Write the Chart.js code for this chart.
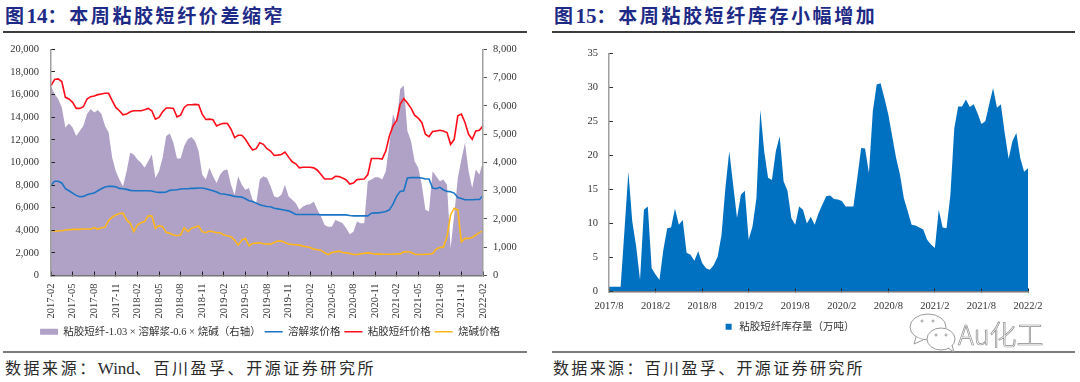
<!DOCTYPE html>
<html>
<head>
<meta charset="utf-8">
<script src="https://cdn.jsdelivr.net/npm/chart.js@4"></script>
<style>
  html, body { margin: 0; padding: 0; background: #fff; }
  body { position: relative; width: 1080px; height: 382px; overflow: hidden; }
  .title { position: absolute; top: 1px; font: bold 19px "Noto Sans CJK SC"; letter-spacing: 2.6px; color: #1d2a86; white-space: pre; }
  .title b { font-family: "Liberation Serif"; font-size: 21px; letter-spacing: 0; }
  .source { position: absolute; top: 355px; font: 16px "Noto Sans CJK SC", sans-serif; color: #2a2a2a; white-space: pre; line-height: 24px; }
  .source i { font: 17px "Liberation Serif"; letter-spacing: 0; }
  .rule { position: absolute; height: 2px; background: #3c3c3c; }
  .rule.low { background: #7c7c7c; }
  .chart { position: absolute; }
  .mark { position: absolute; left: 958px; top: 314px; font: 300 27px "Noto Sans CJK SC"; color: #fff; -webkit-text-stroke: 0.7px #8a8a8a; }
</style>
</head>
<body>
<div class="title" style="left:5px">图<b>14</b>：本周粘胶短纤价差缩窄</div>
<div class="title" style="left:554px">图<b>15</b>：本周粘胶短纤库存小幅增加</div>
<div class="rule" style="left:3px;width:524px;top:31px"></div>
<div class="rule" style="left:552px;width:523px;top:31px"></div>
<div class="chart" style="left:0;top:27px;width:540px;height:322px"><canvas id="spreadChart"></canvas></div>
<div class="chart" style="left:550px;top:31.5px;width:530px;height:312px"><canvas id="stockChart"></canvas></div>
<div class="rule low" style="left:3px;width:524px;top:351px"></div>
<div class="rule low" style="left:552px;width:523px;top:351px"></div>
<div class="source" style="left:5px;letter-spacing:2.55px">数据来源：<i>Wind</i>、百川盈孚、开源证券研究所</div>
<div class="source" style="left:553px;letter-spacing:2.35px">数据来源：百川盈孚、开源证券研究所</div>
<svg style="position:absolute;left:908px;top:312px" width="50" height="42" fill="#fff" stroke="#9a9a9a" stroke-width="1">
  <ellipse cx="20" cy="15" rx="18" ry="13"/>
  <path d="M8 25 L6 32 L15 28"/>
  <circle cx="14" cy="9" r="1"/><circle cx="25" cy="9" r="1"/>
  <ellipse cx="33" cy="27" rx="14" ry="11"/>
  <path d="M40 36 L46 40 L44 33"/>
  <circle cx="28" cy="23" r="1"/><circle cx="38" cy="23" r="1"/>
</svg>
<div class="mark">Au化工</div>

<script>
// half-month steps, 2017-02 to 2022-02
const spreadTicks = ["2017-02","2017-05","2017-08","2017-11","2018-02","2018-05","2018-08","2018-11","2019-02","2019-05","2019-08","2019-11","2020-02","2020-05","2020-08","2020-11","2021-02","2021-05","2021-08","2021-11","2022-02"];

// right axis
const spreadValues = [
  6682,6420,6242,5945,5232,5375,5232,4935,5114,5292,
  5708,5886,5767,5850,5708,5292,5054,4163,3688,3391,
  3153,3688,4341,4282,4104,3985,3807,4044,4282,3450,
  3688,4163,4935,5018,4698,4139,4139,4579,4817,4900,
  4757,4401,3569,3391,3807,3510,3272,3569,3724,3747,
  3213,2856,3510,3213,3035,3094,2678,2559,3391,3510,
  3450,3153,2797,2761,2856,3213,2797,2678,2559,2322,
  2441,2500,2524,2619,2322,2084,1787,1728,1728,1965,
  1906,1847,1668,1455,1550,1906,1847,1847,3332,3391,
  3474,3474,3391,3688,4638,5708,5351,6599,6717,5114,
  4757,4044,3807,3213,2322,2262,3688,3510,3332,3391,
  3213,956,2144,3450,4104,4698,3688,3094,3747,3569,
  4044
];
const pulpPrice = [
  7973,8329,8329,8181,7676,7497,7290,7082,6963,6993,
  7141,7230,7290,7497,7676,7824,7884,7884,7854,7705,
  7676,7616,7527,7497,7497,7497,7497,7497,7468,7379,
  7349,7349,7379,7527,7557,7586,7646,7676,7676,7705,
  7705,7735,7735,7676,7586,7497,7379,7230,7200,7141,
  7082,6993,6963,6933,6785,6606,6547,6399,6250,6161,
  6102,6072,5953,5894,5834,5775,5715,5567,5389,5389,
  5389,5389,5389,5389,5389,5359,5359,5359,5359,5359,
  5359,5359,5359,5300,5270,5270,5270,5270,5270,5508,
  5537,5537,5597,5656,5805,6309,6993,7438,7497,8626,
  8656,8656,8656,8626,8537,8537,7735,7676,7794,7586,
  7438,7408,7290,6903,6814,6696,6696,6696,6725,6725,
  7052
];
const fiberPrice = [
  16794,17328,17388,17150,15754,15606,15309,14774,14774,14922,
  15606,15813,15873,15992,16051,16110,16110,15457,14863,14566,
  14210,14269,14477,14566,14566,14566,14655,14774,14566,13823,
  13972,14477,14804,14804,14774,14031,14180,14863,15101,15101,
  15130,15101,14269,13794,13823,13764,13230,13378,13467,13437,
  12933,12190,12398,12398,12041,11537,11091,11210,11744,11596,
  11210,11002,10616,10646,10705,10913,10467,10052,9873,9517,
  9576,9576,9576,9517,9309,8923,8537,8537,8537,8774,
  8745,8626,8448,8091,8181,8478,8507,8537,8923,10349,
  10349,10349,10289,11002,12339,13230,13675,15160,15635,15249,
  14804,14180,13913,13527,12487,12279,12725,12784,12843,12784,
  12636,11596,12041,14120,14269,13527,12487,12041,12784,12843,
  13230
];
const causticPrice = [
  3963,3933,3933,3963,4022,4052,4082,4082,4082,4112,
  4112,4112,4230,4082,4230,4260,4854,5151,5359,5478,
  5508,4913,4616,3874,4468,4676,4765,5270,5270,4171,
  4409,4320,3815,3726,3577,3518,3577,4230,3874,4171,
  4290,4379,3874,3785,3933,3874,3785,3785,3577,3518,
  3429,3131,2686,3131,3280,2627,2834,2864,2894,2805,
  2775,2775,2924,3042,3042,2924,2775,2745,2716,2686,
  2597,2538,2478,2330,2270,2241,2003,1854,2033,2092,
  2151,2033,2003,1944,1854,1854,1914,1973,2003,1973,
  1884,1914,1884,1884,1884,1884,1914,1914,2092,2092,
  2062,1884,1854,1854,1884,1884,1944,2330,2478,2508,
  3429,5359,5953,5805,2983,3280,3280,3369,3577,3815,
  3933
];

// half-month steps, 2017/8 to 2022/2
const stockTicks = ["2017/8","2018/2","2018/8","2019/2","2019/8","2020/2","2020/8","2021/2","2021/8","2022/2"];
const stockValues = [
  0.7,0.7,0.7,0.7,9.1,17.6,10.3,6.6,1.7,12.0,
  12.5,3.4,2.5,1.7,6.1,9.3,9.4,12.2,9.8,10.5,
  5.7,5.4,4.5,5.9,4.2,3.4,3.2,3.9,5.1,8.3,
  15.2,20.6,15.7,10.8,14.2,14.8,7.6,9.6,13.7,26.7,
  20.6,16.7,16.4,20.6,22.8,16.2,14.8,10.8,9.8,12.5,
  12.0,10.0,11.0,9.8,11.5,12.8,14.0,14.1,13.6,13.5,
  13.3,12.5,12.5,12.5,16.7,21.1,21.0,17.4,26.5,30.4,
  30.6,28.4,26.0,22.8,19.6,17.2,13.7,11.8,9.8,9.7,
  9.4,9.1,7.6,6.9,6.4,12.0,9.4,9.3,14.2,24.0,
  27.2,27.2,28.2,27.1,27.5,26.2,24.6,25.0,27.5,29.9,
  27.0,27.5,23.3,19.5,22.1,23.3,19.6,17.6,18.1
];

const serif = '"Liberation Serif", "Noto Sans CJK SC"';
const textColor = "#333";
const axisGrey = "#a0a0a0";

// only the labelled categories get a tick, the rest stay blank
function expandTicks(ticks, gap) {
  const out = [];
  ticks.forEach((t, i) => {
    out.push(t);
    if (i < ticks.length - 1) { for (let k = 0; k < gap; k++) out.push(""); }
  });
  return out;
}

function keepLabelled(axis) {
  axis.ticks = axis.ticks.filter(t => axis.getLabelForValue(t.value) !== "");
}

function lineSet(label, data, color) {
  return { label: label, data: data, borderColor: color, backgroundColor: color, borderWidth: 1.6,
           pointRadius: 0, pointStyle: "line", tension: 0, order: 1, yAxisID: "y" };
}

new Chart(document.getElementById("spreadChart"), {
  type: "line",
  data: {
    labels: expandTicks(spreadTicks, 5),
    datasets: [
      { label: "粘胶短纤-1.03 × 溶解浆-0.6 × 烧碱（右轴）", data: spreadValues, backgroundColor: "#b0a1c6", borderColor: "#b0a1c6",
        borderWidth: 0, fill: "origin", pointRadius: 0, pointStyle: "rect", tension: 0, order: 2, yAxisID: "y1" },
      lineSet("溶解浆价格", pulpPrice, "#1a75c6"),
      lineSet("粘胶短纤价格", fiberPrice, "#ff0d1a"),
      lineSet("烧碱价格", causticPrice, "#fdb71c")
    ]
  },
  options: {
    responsive: true,
    maintainAspectRatio: false,
    animation: false,
    layout: { padding: { top: 9, bottom: 2 } },
    plugins: {
      tooltip: { enabled: false },
      legend: {
        position: "bottom",
        labels: {
          usePointStyle: true, pointStyleWidth: 18, boxHeight: 6, padding: 4,
          color: textColor, font: { family: serif, size: 10.5 },
          sort: (a, b) => a.datasetIndex - b.datasetIndex
        }
      }
    },
    scales: {
      x: {
        offset: false,
        grid: { drawOnChartArea: false, tickLength: -4, tickColor: "#222", z: 1, offset: false },
        border: { color: "#777", width: 1.5, z: 1 },
        ticks: { autoSkip: false, minRotation: 90, maxRotation: 90, padding: 12, color: textColor, font: { family: serif, size: 10.5 } },
        afterBuildTicks: keepLabelled,
        afterFit: s => { s.height = 47; }
      },
      y: {
        position: "left", min: 0, max: 20000,
        grid: { drawOnChartArea: false, tickLength: -4, tickColor: "#222", z: 1 },
        border: { color: axisGrey, width: 1.5, z: 1 },
        ticks: { stepSize: 2000, padding: 16, color: textColor, font: { family: serif, size: 10.5 }, callback: v => v.toLocaleString("en-US") },
        afterFit: s => { s.width = 51; }
      },
      y1: {
        position: "right", min: 0, max: 8000,
        grid: { drawOnChartArea: false, tickLength: 4, tickColor: "#555", z: 1 },
        border: { color: axisGrey, width: 1.5, z: 1 },
        ticks: { stepSize: 1000, padding: 6, color: textColor, font: { family: serif, size: 10.5 }, callback: v => v.toLocaleString("en-US") },
        afterFit: s => { s.width = 57; }
      }
    }
  }
});

new Chart(document.getElementById("stockChart"), {
  type: "line",
  data: {
    labels: expandTicks(stockTicks, 11),
    datasets: [
      { label: "粘胶短纤库存量（万吨）", data: stockValues, backgroundColor: "#0070c0", borderColor: "#0070c0",
        borderWidth: 0, fill: "origin", pointRadius: 0, pointStyle: "rect", tension: 0 }
    ]
  },
  options: {
    responsive: true,
    maintainAspectRatio: false,
    animation: false,
    layout: { padding: { top: 12, right: 52, bottom: 2 } },
    plugins: {
      tooltip: { enabled: false },
      legend: {
        position: "bottom",
        labels: { usePointStyle: true, boxHeight: 6, padding: 8, color: textColor, font: { family: serif, size: 10.5 } }
      }
    },
    scales: {
      x: {
        offset: false,
        grid: { drawOnChartArea: false, tickLength: -3, tickColor: "#222", z: 1, offset: false },
        border: { color: "#777", width: 1.5, z: 1 },
        ticks: { autoSkip: false, maxRotation: 0, padding: 11, color: textColor, font: { family: serif, size: 10.5 } },
        afterBuildTicks: keepLabelled,
        afterFit: s => { s.height = 22; }
      },
      y: {
        min: 0, max: 35,
        grid: { drawOnChartArea: false, tickLength: -4, tickColor: "#333", z: 1 },
        border: { color: axisGrey, width: 1.5, z: 1 },
        ticks: { stepSize: 5, padding: 15, color: textColor, font: { family: serif, size: 10.5 } },
        afterFit: s => { s.width = 59; }
      }
    }
  }
});
</script>
</body>
</html>
